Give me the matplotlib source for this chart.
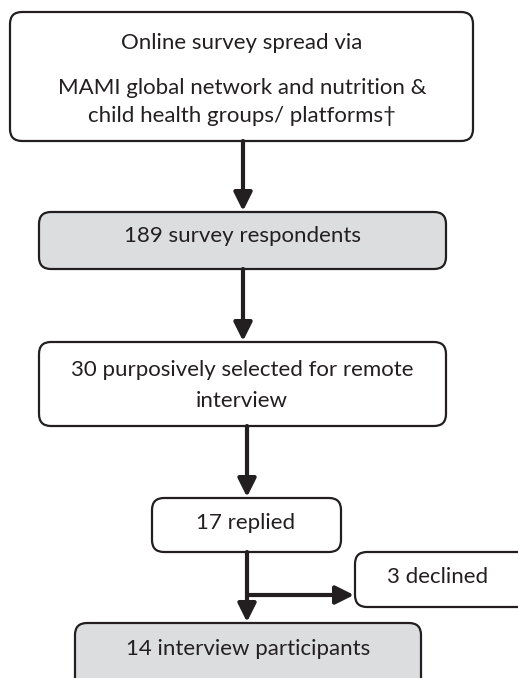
import matplotlib
matplotlib.use("Agg")
import matplotlib.pyplot as plt
from matplotlib.patches import FancyBboxPatch, FancyArrowPatch

# Flow steps (labels) and their fill colours
labels = [
    "Online survey spread via",
    "MAMI global network and nutrition &",
    "child health groups/ platforms\u2020",
    "189 survey respondents",
    "30 purposively selected for remote",
    "interview",
    "17 replied",
    "3 declined",
    "14 interview participants",
]

WHITE = "white"
GREY = "#dcdddf"
EDGE = "#231f20"

fig = plt.figure(figsize=(5.18, 6.78), dpi=100)
ax = fig.add_axes([0, 0, 1, 1])
ax.set_xlim(0, 518)
ax.set_ylim(678, 0)
ax.axis("off")

FONT = "Lato"
FS = 16


def box(x0, y0, x1, y1, fill):
    p = FancyBboxPatch((x0, y0), x1 - x0, y1 - y0,
                       boxstyle="round,pad=0,rounding_size=12",
                       fc=fill, ec=EDGE, lw=1.6, clip_on=True)
    ax.add_patch(p)


def arrow(x0, y0, x1, y1):
    a = FancyArrowPatch((x0, y0), (x1, y1),
                        arrowstyle="-|>,head_length=11,head_width=5.5",
                        mutation_scale=1, color=EDGE, lw=3,
                        shrinkA=0, shrinkB=0)
    ax.add_patch(a)


def label(x, y, s):
    ax.text(x, y, s, ha="center", va="center", fontsize=FS, family=FONT, color=EDGE)


# boxes
box(10, 12, 473, 141, WHITE)
box(39, 212, 446, 269, GREY)
box(39, 342, 446, 426, WHITE)
box(152, 498, 341, 552, WHITE)
box(355, 552, 545, 607, WHITE)
box(75, 623, 421, 700, GREY)

# text
label(242, 43, labels[0])
label(242, 88, labels[1])
label(242, 116, labels[2])
label(242, 236, labels[3])
label(242, 370, labels[4])
label(242, 401, labels[5])
label(246, 523, labels[6])
label(438, 577, labels[7])
label(248, 649, labels[8])

# arrows
arrow(243, 141, 243, 211)
arrow(243, 269, 243, 341)
arrow(247, 426, 247, 497)
arrow(247, 552, 247, 622)
arrow(247, 595, 354, 595)

fig.savefig("out.png", dpi=100)
